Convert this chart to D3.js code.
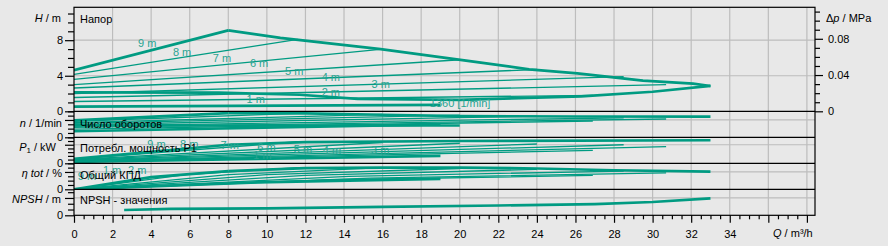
<!DOCTYPE html>
<html>
<head>
<meta charset="utf-8">
<script src="https://cdn.jsdelivr.net/npm/d3@7"></script>
<style>
  body { margin: 0; background: #e8e8e8; }
  svg { display: block; }
</style>
</head>
<body>
<script>
// ---- data ----
var flowLabels = d3.range(0, 35, 2);                  // Q tick labels, m3/h
var setpoints = ["1 m", "2 m", "3 m", "4 m", "5 m", "6 m", "7 m", "8 m", "9 m"];
var flowEnd   = [19, 26.9, 30.7, 28.5, 24, 20, 16, 11.6, 8];

// head, m (start at Q = 0, end at flowEnd)
var headStart = [0.53, 1.1, 1.55, 2.0, 2.62, 3.01, 3.58, 4.15, 4.62];
var headEnd   = [0.72, 1.8, 3.0, 3.9, 4.7, 5.8, 7.0, 8.1, 9.1];
var maxHead = [[8, 9.1], [10.7, 8.26], [15.9, 7.0], [21, 5.5], [23.6, 4.72], [26.1, 4.26], [29.5, 3.46], [32.1, 3.12], [33, 2.85]];
var minSpeedHead = [[0, 2.13], [7.5, 2.1], [11.7, 1.86], [14.7, 1.4], [20, 1.29], [26.3, 1.67], [30, 2.2], [33, 2.85]];

// speed, 1/min
var speedStart = [700, 950, 1150, 1300, 1450, 1600, 1700, 1850, 1950];
var speedEnd   = [1500, 1880, 2110, 2250, 2450, 2550, 2650, 2750, 2800];
var maxSpeed = [[8, 2800], [12, 2750], [16, 2600], [20, 2450], [26, 2400], [33, 2380]];
var minSpeed = [[0, 1360], [20, 1360]];

// power P1, kW
var powerStart = [0.004, 0.005, 0.006, 0.007, 0.008, 0.009, 0.010, 0.011, 0.012];
var powerEnd   = [0.020, 0.035, 0.045, 0.050, 0.052, 0.054, 0.056, 0.058, 0.050];
var maxPower = [[8, 0.050], [12, 0.057], [20, 0.060], [33, 0.062]];

// total efficiency, %
var effMid = [8, 11, 13, 15, 16, 17, 17, 17, 14];
var effEnd = [12, 16, 19, 21, 23, 24, 25, 25, 21];
var maxEff = [[8, 21], [12, 24.5], [16, 25], [20, 25], [24, 24], [28, 22], [33, 20.5]];

// NPSH, m
var npsh = [[2.6, 0.92], [5, 1.1], [10, 1.2], [16, 1.45], [22, 1.7], [27, 1.95], [30, 2.3], [33, 2.94]];

// curve labels [Q, value]
var headLabelPos = [[8.95, 0.93], [12.84, 1.69], [15.43, 2.62], [12.84, 3.37], [10.94, 4.08], [9.12, 4.95], [7.2, 5.51], [5.13, 6.25], [3.32, 7.23]];
var powerLabelText = ["9 m", "8 m", "7 m", "6 m", "5 m", "1 m", "4 m", "3 m"];
var powerLabelPos = [[3.8, 0.041], [5.5, 0.041], [7.6, 0.038], [9.5, 0.032], [11.4, 0.0285], [9.3, 0.0124], [12.9, 0.026], [15.4, 0.026]];
var effLabelText = ["9 m", "1 m", "2 m"];
var effLabelPos = [[0.2, 10.7], [1.5, 18], [2.8, 18]];

/**
 * Default parameter
 */
var W = 888, H = 246;
var left = 74, right = 815;
var lineColor = "#009b82";
var labelColor = "#28a491";
var gridColor = "#bdbdbd";
var fontFamily = "'Liberation Sans', Arial, sans-serif";

var x = d3.scaleLinear().domain([0, 38.42]).range([left, right]);

var panels = [
    { name: "head",  top: 7.3,   bottom: 111.3, y: d3.scaleLinear().domain([0, 11.7]).range([111.3, 7.3]) },
    { name: "speed", top: 111.3, bottom: 137.3, y: d3.scaleLinear().domain([0, 3000]).range([137.3, 111.3]) },
    { name: "power", top: 137.3, bottom: 163.3, y: d3.scaleLinear().domain([0, 0.07]).range([163.3, 137.3]) },
    { name: "eff",   top: 163.3, bottom: 189.3, y: d3.scaleLinear().domain([0, 30]).range([189.3, 163.3]) },
    { name: "npsh",  top: 189.3, bottom: 215.3, y: d3.scaleLinear().domain([0, 4.5]).range([215.3, 189.3]) }
];
var yHead = panels[0].y, ySpeed = panels[1].y, yPower = panels[2].y, yEff = panels[3].y, yNpsh = panels[4].y;
var yPress = d3.scaleLinear().domain([0, 11.7 / 101.97]).range([111.3, 7.3]);

var svg = d3.select("body").append("svg")
    .attr("width", W)
    .attr("height", H)
    .style("background-color", "#e8e8e8")
    .attr("font-family", fontFamily);

// clip paths, one per panel
var defs = svg.append("defs");
panels.forEach(function (p) {
    defs.append("clipPath").attr("id", "clip-" + p.name)
        .append("rect")
        .attr("x", left).attr("y", p.top)
        .attr("width", right - left).attr("height", p.bottom - p.top);
});

// ---- grid ----
var grid = svg.append("g").attr("stroke", gridColor).attr("stroke-width", 1.2);
d3.range(2, 39, 2).forEach(function (q) {
    grid.append("line")
        .attr("x1", x(q)).attr("x2", x(q))
        .attr("y1", panels[0].top).attr("y2", panels[4].bottom);
});
var hGrid = [[yHead, 4], [yHead, 8], [ySpeed, 2000], [yPower, 0.05], [yEff, 20], [yNpsh, 3]];
hGrid.forEach(function (g) {
    grid.append("line")
        .attr("x1", left).attr("x2", right)
        .attr("y1", g[0](g[1])).attr("y2", g[0](g[1]));
});

// ---- curves ----
function drawCurves(panel, series) {
    var line = d3.line()
        .x(function (d) { return x(d[0]); })
        .y(function (d) { return panel.y(d[1]); });
    var g = svg.append("g").attr("clip-path", "url(#clip-" + panel.name + ")");
    series.sort(function (a, b) { return a.w - b.w; });
    g.selectAll("path")
        .data(series)
        .enter()
        .append("path")
        .attr("d", function (d) { return line(d.pts); })
        .attr("fill", "none")
        .attr("stroke", lineColor)
        .attr("stroke-width", function (d) { return d.w; });
}

var thin = 1.3, thick = 2.7;
function widthOf(i) { return (i === 0 || i === 8) ? thick : thin; }

drawCurves(panels[0], setpoints.map(function (s, i) {
    return { w: widthOf(i), pts: [[0, headStart[i]], [flowEnd[i], headEnd[i]]] };
}).concat([{ w: thick, pts: maxHead }, { w: thick, pts: minSpeedHead }]));

drawCurves(panels[1], setpoints.map(function (s, i) {
    return { w: widthOf(i), pts: [[0, speedStart[i]], [flowEnd[i], speedEnd[i]]] };
}).concat([{ w: thick, pts: maxSpeed }, { w: thick, pts: minSpeed }]));

drawCurves(panels[2], setpoints.map(function (s, i) {
    return { w: widthOf(i), pts: [[0, powerStart[i]], [flowEnd[i], powerEnd[i]]] };
}).concat([{ w: thick, pts: maxPower }]));

drawCurves(panels[3], setpoints.map(function (s, i) {
    return { w: widthOf(i), pts: [[0, 0], [flowEnd[i] / 2, effMid[i]], [flowEnd[i], effEnd[i]]] };
}).concat([{ w: thick, pts: maxEff }]));

drawCurves(panels[4], [{ w: thick, pts: npsh }]);

// ---- curve labels ----
var labels = svg.append("g").attr("font-size", "11px").attr("fill", labelColor);
setpoints.forEach(function (s, i) {
    labels.append("text")
        .attr("x", x(headLabelPos[i][0])).attr("y", yHead(headLabelPos[i][1]))
        .text(s);
});
labels.append("text").attr("x", x(18.45)).attr("y", yHead(0.52)).text("1360 [1/min]");
powerLabelText.forEach(function (s, i) {
    labels.append("text")
        .attr("x", x(powerLabelPos[i][0])).attr("y", yPower(powerLabelPos[i][1]))
        .text(s);
});
effLabelText.forEach(function (s, i) {
    labels.append("text")
        .attr("x", x(effLabelPos[i][0])).attr("y", yEff(effLabelPos[i][1]))
        .text(s);
});

// ---- panel titles ----
var titles = [["Напор", 23], ["Число оборотов", 128], ["Потребл. мощность P1", 152], ["Общий КПД", 179], ["NPSH - значения", 204]];
svg.append("g").attr("font-size", "11px").attr("fill", "#000")
    .selectAll("text").data(titles).enter().append("text")
    .attr("x", 80).attr("y", function (d) { return d[1]; })
    .text(function (d) { return d[0]; });

// ---- frame ----
var frame = svg.append("g").attr("stroke", "#000").attr("stroke-width", 1.2).attr("fill", "none");
frame.append("rect").attr("x", left).attr("y", panels[0].top)
    .attr("width", right - left).attr("height", panels[4].bottom - panels[0].top);
panels.slice(1).forEach(function (p) {
    frame.append("line").attr("x1", left).attr("x2", right).attr("y1", p.top).attr("y2", p.top);
});

// ---- axes ----
function styleAxis(g, majorTest, majorLen, sign) {
    g.select(".domain").remove();
    g.selectAll("line").attr("stroke", "#000").attr("stroke-width", 1.2);
    g.selectAll(".tick").filter(majorTest).select("line")
        .attr(sign.attr, sign.dir * majorLen);
    g.selectAll("text").attr("font-size", "11px").attr("font-family", fontFamily).attr("fill", "#000");
}

// head axis
var headAxis = svg.append("g").attr("transform", "translate(" + left + ",0)")
    .call(d3.axisLeft(yHead).tickValues(d3.range(0, 12)).tickSize(6).tickPadding(5)
        .tickFormat(function (d) { return d % 4 === 0 ? d : ""; }));
styleAxis(headAxis, function (d) { return d % 4 === 0; }, 9, { attr: "x2", dir: -1 });

// pressure axis
var pressTicks = d3.range(0, 12).map(function (i) { return i / 100; });
var pressAxis = svg.append("g").attr("transform", "translate(" + right + ",0)")
    .call(d3.axisRight(yPress).tickValues(pressTicks).tickSize(5).tickPadding(8)
        .tickFormat(function (d) {
            var k = Math.round(d * 100);
            if (k === 0) return "0";
            return k % 4 === 0 ? d3.format(".2f")(d) : "";
        }));
styleAxis(pressAxis, function (d) { return Math.round(d * 100) % 4 === 0; }, 8, { attr: "x2", dir: 1 });

// lower panel axes
var lowerTicks = [
    [ySpeed, d3.range(0, 3001, 500), 2000],
    [yPower, d3.range(0, 8).map(function (i) { return i / 100; }), 0.05],
    [yEff, d3.range(0, 31, 5), 20],
    [yNpsh, d3.range(0, 5), 3]
];
lowerTicks.forEach(function (t) {
    var a = svg.append("g").attr("transform", "translate(" + left + ",0)")
        .call(d3.axisLeft(t[0]).tickValues(t[1]).tickSize(6).tickPadding(5)
            .tickFormat(function (d) { return d === 0 ? "0" : ""; }));
    styleAxis(a, function (d) { return d === 0 || Math.abs(d - t[2]) < 1e-9; }, 9, { attr: "x2", dir: -1 });
});

// flow axis
var flowAxis = svg.append("g").attr("transform", "translate(0," + panels[4].bottom + ")")
    .call(d3.axisBottom(x).tickValues(d3.range(0, 38.5, 0.5)).tickSize(4).tickPadding(11)
        .tickFormat(function (d) { return flowLabels.indexOf(d) >= 0 ? d : ""; }));
styleAxis(flowAxis, function (d) { return d % 2 === 0; }, 7.5, { attr: "y2", dir: 1 });

// ---- axis titles ----
function axisTitle(xPos, yPos, parts, anchor) {
    var t = svg.append("text").attr("x", xPos).attr("y", yPos)
        .attr("font-size", "11px").attr("text-anchor", anchor || "end").attr("fill", "#000");
    parts.forEach(function (p) {
        var ts = t.append("tspan").text(p[0]);
        if (p[1] === "i") ts.attr("font-style", "italic");
        if (p[1] === "sub") ts.attr("font-size", "8px").attr("dy", 2);
        if (p[1] === "after-sub") ts.attr("dy", -2);
    });
}
axisTitle(61, 22, [["H", "i"], [" / m"]]);
axisTitle(62, 127, [["n", "i"], [" / 1/min"]]);
axisTitle(56, 151, [["P", "i"], ["1", "sub"], [" / kW", "after-sub"]]);
axisTitle(62, 177, [["η tot", "i"], [" / %"]]);
axisTitle(61, 203, [["NPSH", "i"], [" / m"]]);
axisTitle(826, 22, [["Δ"], ["p", "i"], [" / MPa"]], "start");
axisTitle(773, 237, [["Q", "i"], [" / m³/h"]], "start");
</script>
</body>
</html>
